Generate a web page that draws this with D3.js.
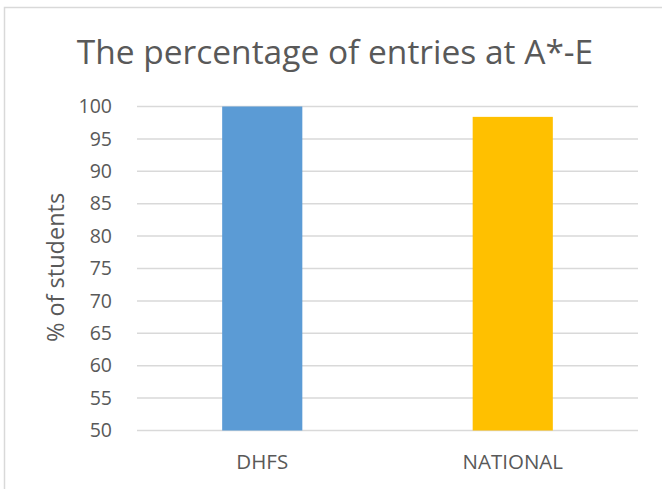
<!DOCTYPE html>
<html>
<head>
<meta charset="utf-8">
<script src="https://cdn.jsdelivr.net/npm/d3@7"></script>
<style>
  body { margin: 0; background: #fff; }
  text { font-family: "Open Sans", sans-serif; fill: #595959; }
</style>
</head>
<body>
<svg id="chart" width="662" height="489"></svg>
<script>
// chart data
const categories = ["DHFS", "NATIONAL"];
const values = [100, 98.4];
const colors = ["#5B9BD5", "#FFC000"];
const yTicks = [50, 55, 60, 65, 70, 75, 80, 85, 90, 95, 100];

const svg = d3.select("#chart");
const margin = { top: 106.5, left: 137, right: 24, bottom: 58.5 };
const width = 662 - margin.left - margin.right;
const height = 489 - margin.top - margin.bottom;

// outer chart frame
svg.append("rect")
    .attr("x", 4.5).attr("y", 7.5)
    .attr("width", 680).attr("height", 500)
    .style("fill", "none")
    .style("stroke", "#D9D9D9")
    .style("stroke-width", 1.5);

const g = svg.append("g")
    .attr("transform", "translate(" + margin.left + "," + margin.top + ")");

const x = d3.scaleBand()
    .domain(categories)
    .range([0, width])
    .paddingInner(0.68)
    .paddingOuter(0.34);

const y = d3.scaleLinear()
    .domain([50, 100])
    .range([height, 0]);

// gridlines
g.selectAll("line.grid")
    .data(yTicks)
    .enter().append("line")
        .attr("class", "grid")
        .attr("x1", 0).attr("x2", width)
        .attr("y1", d => y(d)).attr("y2", d => y(d))
        .style("stroke", "#D9D9D9")
        .style("stroke-width", 1.5);

// y tick labels
const yAxis = g.append("g")
    .call(d3.axisLeft(y).tickValues(yTicks).tickSize(0).tickPadding(25));
yAxis.select(".domain").remove();
yAxis.selectAll("text")
    .style("font-size", "19.5px")
    .style("fill", "#595959");

// bars
g.selectAll("rect.bar")
    .data(categories)
    .enter().append("rect")
        .attr("class", "bar")
        .attr("x", d => x(d))
        .attr("width", x.bandwidth())
        .attr("y", (d, i) => y(values[i]))
        .attr("height", (d, i) => height - y(values[i]))
        .style("fill", (d, i) => colors[i]);

// x labels
const xAxis = g.append("g")
    .attr("transform", "translate(0," + height + ")")
    .call(d3.axisBottom(x).tickSize(0).tickPadding(24));
xAxis.select(".domain").remove();
xAxis.selectAll("text")
    .style("font-size", "20.5px")
    .style("fill", "#595959");

// title
svg.append("text")
    .attr("x", 335).attr("y", 64)
    .attr("text-anchor", "middle")
    .style("font-size", "33.5px")
    .text("The percentage of entries at A*-E");

// y axis title
svg.append("text")
    .attr("transform", "translate(64," + (margin.top + height / 2 - 1) + ") rotate(-90)")
    .attr("text-anchor", "middle")
    .style("font-size", "23.5px")
    .text("% of students");
</script>
</body>
</html>
